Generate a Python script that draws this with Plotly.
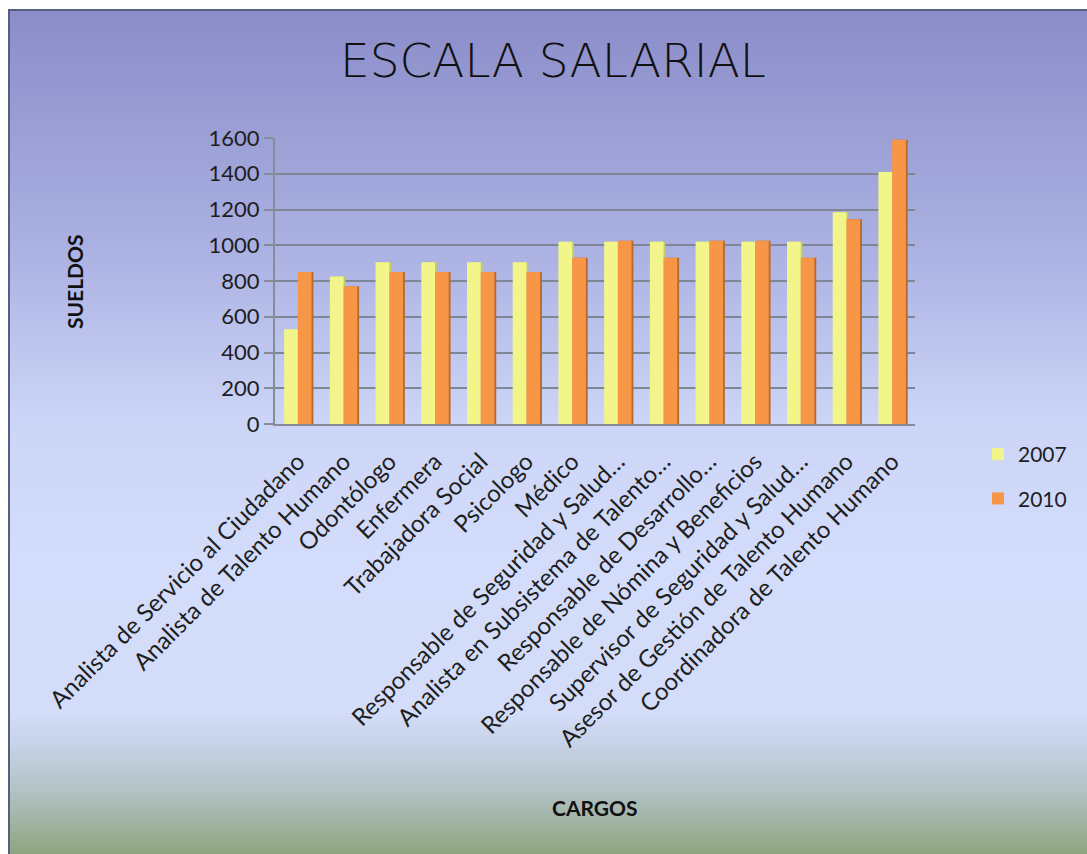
import plotly.graph_objects as go

cargos = [
    "Analista de Servicio al Ciudadano",
    "Analista de Talento Humano",
    "Odontólogo",
    "Enfermera",
    "Trabajadora Social",
    "Psicologo",
    "Médico",
    "Responsable de Seguridad y Salud…",
    "Analista en Subsistema de Talento…",
    "Responsable de Desarrollo…",
    "Responsable de Nómina y Beneficios",
    "Supervisor de Seguridad y Salud…",
    "Asesor de Gestión de Talento Humano",
    "Coordinadora de Talento Humano",
]
sueldos_2007 = [530, 825, 905, 905, 905, 905, 1020, 1020, 1020, 1020, 1020, 1020, 1185, 1410]
sueldos_2010 = [850, 770, 850, 850, 850, 850, 930, 1025, 930, 1025, 1025, 930, 1145, 1590]
y_ticks = [0, 200, 400, 600, 800, 1000, 1200, 1400, 1600]

W, H = 1087, 854
ML, MR, MT, MB = 275, 172, 138, 430
PW, PH = W - ML - MR, H - MT - MB
FONT = "Lato"


def px_x(px):
    return (px - ML) / PW


def px_y(py):
    return (H - MB - py) / PH


fig = go.Figure()

# depth (side faces) drawn first, behind the front faces
fig.add_trace(go.Bar(x=cargos, y=sueldos_2007, offset=-0.26, width=0.3,
                     marker=dict(color="#c3cf62", line=dict(width=0)),
                     showlegend=False, hoverinfo="skip"))
fig.add_trace(go.Bar(x=cargos, y=sueldos_2010, offset=0.04, width=0.3,
                     marker=dict(color="#b8692c", line=dict(width=0)),
                     showlegend=False, hoverinfo="skip"))
fig.add_trace(go.Bar(x=cargos, y=sueldos_2007, name="2007", offset=-0.3, width=0.3,
                     marker=dict(color="#f2f68a", line=dict(width=0)),
                     legendgroup="a"))
fig.add_trace(go.Bar(x=cargos, y=sueldos_2010, name="2010", offset=0.0, width=0.3,
                     marker=dict(color="#f79646", line=dict(width=0)),
                     legendgroup="b"))

# background gradient
stops = [(0, (0x89, 0x8b, 0xc7)), (250, (0xab, 0xb1, 0xe2)), (420, (0xcc, 0xd5, 0xf7)),
         (560, (0xd3, 0xdc, 0xfa)), (715, (0xd3, 0xdc, 0xf8)), (745, (0xc6, 0xd2, 0xe6)),
         (790, (0xb3, 0xc3, 0xc6)), (854, (0x8e, 0xa4, 0x80))]


def col_at(py):
    for (y0, c0), (y1, c1) in zip(stops[:-1], stops[1:]):
        if y0 <= py <= y1:
            t = (py - y0) / (y1 - y0)
            return "rgb(%d,%d,%d)" % tuple(round(a + (b - a) * t) for a, b in zip(c0, c1))
    return "rgb(%d,%d,%d)" % stops[-1][1]


shapes = []
step = 4
for py in range(0, H, step):
    shapes.append(dict(type="rect", xref="paper", yref="paper", layer="below",
                       x0=px_x(0), x1=px_x(W), y0=px_y(py + step + 1), y1=px_y(py),
                       line=dict(width=0), fillcolor=col_at(py + step / 2)))
# white outer strip and border
shapes.append(dict(type="rect", xref="paper", yref="paper", layer="below",
                   x0=px_x(0), x1=px_x(W), y0=px_y(9), y1=px_y(0),
                   line=dict(width=0), fillcolor="white"))
shapes.append(dict(type="rect", xref="paper", yref="paper", layer="below",
                   x0=px_x(0), x1=px_x(8), y0=px_y(H), y1=px_y(0),
                   line=dict(width=0), fillcolor="white"))
shapes.append(dict(type="rect", xref="paper", yref="paper", layer="above",
                   x0=px_x(9), x1=px_x(W + 5), y0=px_y(H + 5), y1=px_y(10),
                   line=dict(width=2, color="#56607e"), fillcolor="rgba(0,0,0,0)"))

annotations = [
    dict(text="ESCALA SALARIAL", x=px_x(553), y=px_y(60), xref="paper", yref="paper",
         showarrow=False, xanchor="center", yanchor="middle",
         font=dict(family="DejaVu Sans", size=47, color="#111111", weight=200)),
    dict(text="<b>SUELDOS</b>", x=px_x(74), y=px_y(282), xref="paper", yref="paper",
         showarrow=False, textangle=-90, xanchor="center", yanchor="middle",
         font=dict(family=FONT, size=21, color="#111111")),
    dict(text="<b>CARGOS</b>", x=px_x(595), y=px_y(807), xref="paper", yref="paper",
         showarrow=False, xanchor="center", yanchor="middle",
         font=dict(family=FONT, size=21, color="#111111")),
]

fig.update_layout(
    width=W, height=H,
    margin=dict(l=ML, r=MR, t=MT, b=MB),
    paper_bgcolor="rgba(0,0,0,0)",
    plot_bgcolor="rgba(0,0,0,0)",
    barmode="overlay",
    font=dict(family=FONT, size=20, color="#1e1e1e"),
    shapes=shapes,
    annotations=annotations,
    legend=dict(x=px_x(978), y=px_y(434), xanchor="left", yanchor="top",
                bgcolor="rgba(0,0,0,0)", font=dict(size=21, family=FONT),
                tracegroupgap=14, itemwidth=30),
    xaxis=dict(type="category", tickangle=-45, showgrid=False, showline=True,
               linecolor="#868c98", linewidth=2, ticks="", ticklabelstandoff=12,
               tickfont=dict(size=24, family=FONT, color="#1e1e1e")),
    yaxis=dict(range=[0, 1600], tickvals=y_ticks, showgrid=True, gridcolor="#7f8695",
               gridwidth=2, showline=True, linecolor="#868c98", linewidth=2,
               ticks="outside", ticklen=9, tickcolor="#868c98", tickwidth=2,
               tickfont=dict(size=22, family=FONT, color="#1e1e1e"), zeroline=False),
)

fig.write_html("out.html")
